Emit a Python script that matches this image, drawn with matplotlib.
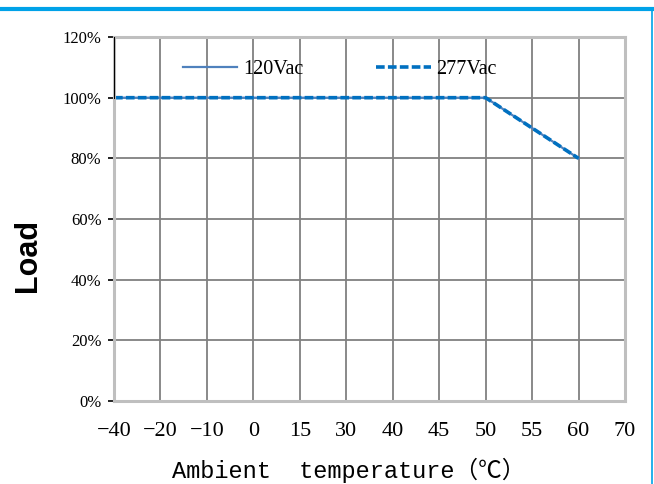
import matplotlib.pyplot as plt
from matplotlib.lines import Line2D

# categorical temperature axis (evenly spaced in the original)
temps = ['-40', '-20', '-10', '0', '15', '30', '40', '45', '50', '55', '60', '70']
load_120 = [100, 100, 100, 100, 100, 100, 100, 100, 100, 90, 80]
load_277 = [100, 100, 100, 100, 100, 100, 100, 100, 100, 90, 80]
y_ticks = [0, 20, 40, 60, 80, 100, 120]

fig = plt.figure(figsize=(6.54, 4.84), dpi=100)
ax = fig.add_axes([0.1743, 0.1715, 0.7813, 0.752])

x = list(range(len(temps)))
ax.plot(x[:len(load_120)], load_120, color='#4F81BD', lw=1.6, label='120Vac')
ax.plot(x[:len(load_277)], load_277, color='#0070C0', lw=2.6,
        dashes=(2.4, 0.9), label='277Vac')

ax.set_xlim(0, len(temps) - 1)
ax.set_ylim(0, 120)
ax.set_xticks(x)
ax.set_xticklabels([t.replace('-', '\u2212') for t in temps],
                   fontfamily='Liberation Serif', fontsize=16)
ax.set_yticks(y_ticks)
ax.set_yticklabels([f'{v}%' for v in y_ticks], fontfamily='Liberation Serif',
                   fontsize=12)
ax.tick_params(axis='x', length=0, pad=15)
ax.tick_params(axis='y', length=4, width=1.2, color='black', pad=5)

for i in x[1:-1]:
    ax.axvline(i, color='#808080', lw=1.3, zorder=0)
for v in y_ticks[1:-1]:
    ax.axhline(v, color='#808080', lw=1.3, zorder=0)
ax.axvline(0, ymin=100 / 120, ymax=1, color='black', lw=1.5, zorder=3)

for s in ax.spines.values():
    s.set_color('#BFBFBF')
    s.set_linewidth(2.2)

ax.set_ylabel('Load', fontfamily='Liberation Sans', fontweight='bold',
              fontsize=22)
ax.yaxis.set_label_coords(-0.138, 0.40)
ax.set_xlabel('Ambient  temperature\uff08\u2103\uff09',
              fontfamily=['Liberation Mono', 'Noto Sans CJK SC'], fontsize=17,
              labelpad=9)
ax.xaxis.set_label_coords(0.46, -0.155)

ax.legend(loc='center left', bbox_to_anchor=(0.135, 0.912), ncol=2,
          frameon=False, handlelength=2.7, columnspacing=3.6,
          handletextpad=0.3, borderpad=0, borderaxespad=0,
          prop={'family': 'Liberation Serif', 'size': 14.5})

# blue frame lines of the page
fig.add_artist(Line2D([0, 0.997], [0.981, 0.981], color='#00A2E8', lw=3))
fig.add_artist(Line2D([0.997, 0.997], [0, 0.981], color='#00A2E8', lw=1.2))

fig.savefig('out.png', dpi=100)
